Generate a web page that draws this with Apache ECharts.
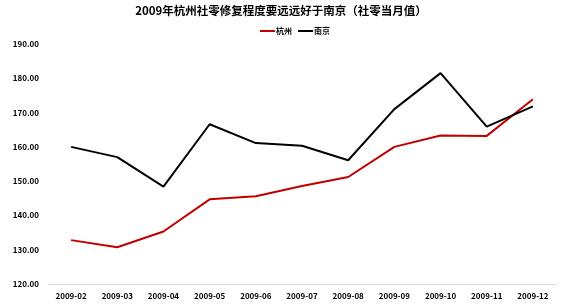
<!DOCTYPE html>
<html><head><meta charset="utf-8">
<script src="https://cdn.jsdelivr.net/npm/echarts@6/dist/echarts.min.js"></script>
<style>html,body{margin:0;padding:0;background:#fff}#c{width:562px;height:304px}</style>
</head><body><div id="c"></div>
<script>
const categories = ['2009-02','2009-03','2009-04','2009-05','2009-06','2009-07','2009-08','2009-09','2009-10','2009-11','2009-12'];
const hangzhou = [132.8, 130.7, 135.3, 144.7, 145.6, 148.6, 151.2, 160.0, 163.3, 163.2, 173.9];
const nanjing = [160.0, 157.0, 148.4, 166.6, 161.1, 160.3, 156.1, 171.0, 181.5, 165.9, 171.8];
const titleText = '2009年杭州社零修复程度要远远好于南京（社零当月值）';
const seriesNames = ['杭州', '南京'];
const font = '"Noto Sans CJK SC", "Noto Sans", sans-serif';
const chart = echarts.init(document.getElementById('c'));
chart.setOption({
  animation: false,
  title: {text: titleText, left: 'center', top: 0,
    textStyle: {fontFamily: font, fontSize: 11.5, fontWeight: 'bold', color: '#000'}},
  legend: {top: 22, left: 255, itemWidth: 15, itemHeight: 2, itemGap: 6, icon: 'rect',
    textStyle: {fontFamily: font, fontSize: 8, fontWeight: 'bold', color: '#000', padding: [0,0,0,-4]},
    data: seriesNames},
  grid: {left: 48, right: 6, top: 44, bottom: 20, containLabel: false},
  xAxis: {type: 'category', data: categories, boundaryGap: true,
    axisLine: {lineStyle: {color: '#d9d9d9', width: 1}}, axisTick: {show: false},
    axisLabel: {fontFamily: font, fontSize: 8, fontWeight: 'bold', color: '#000', margin: 8, interval: 0}},
  yAxis: {type: 'value', min: 120, max: 190, interval: 10,
    axisLine: {show: false}, axisTick: {show: false}, splitLine: {show: false},
    axisLabel: {fontFamily: font, fontSize: 8, fontWeight: 'bold', color: '#000', margin: 9,
      formatter: v => v.toFixed(2)}},
  series: [
    {name: seriesNames[0], type: 'line', data: hangzhou, symbol: 'none', lineStyle: {color: '#C00000', width: 2}, itemStyle: {color: '#C00000'}},
    {name: seriesNames[1], type: 'line', data: nanjing, symbol: 'none', lineStyle: {color: '#000000', width: 2}, itemStyle: {color: '#000000'}}
  ]
});
</script></body></html>
